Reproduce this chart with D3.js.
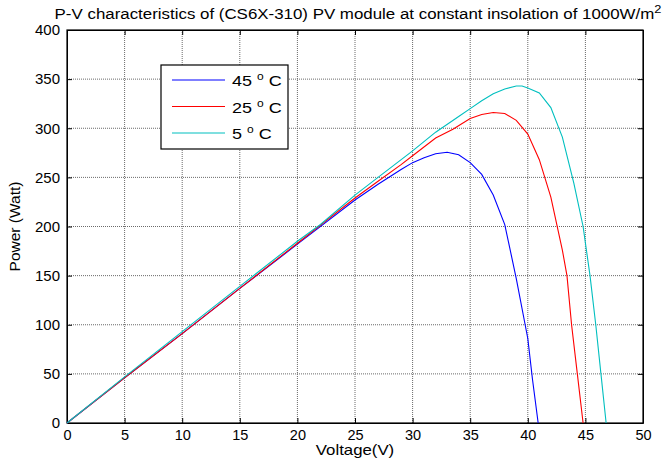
<!DOCTYPE html>
<html>
<head>
<meta charset="utf-8">
<script src="https://cdn.jsdelivr.net/npm/d3@7"></script>
<style>
  body { margin: 0; background: #fff; }
  text { font-family: "Liberation Sans", Arial, sans-serif; fill: #000; }
</style>
</head>
<body>
<div id="app"></div>
<script>
// data
var v45 = [0, 5, 10, 15, 20, 25, 27, 29, 30, 31, 32, 33, 34, 35, 36, 37, 38, 39, 40, 40.4, 40.9];
var p45 = [0, 46, 91, 137, 182, 227, 243, 258, 265, 270, 274, 275.5, 273, 265, 253, 232, 202, 147, 86, 45, 0];

var v25 = [0, 5, 10, 15, 20, 25, 27, 29, 30, 32, 33.5, 35, 36, 37, 38, 39, 40, 41, 42, 43, 43.4, 43.8, 44.3, 44.8];
var p25 = [0, 46, 91, 137, 183, 229, 246, 263, 272, 290, 299, 310, 314, 316, 315, 308, 294, 268, 230, 176, 150, 100, 50, 0];

var v5 = [0, 5, 10, 15, 20, 22, 25, 27, 30, 32, 34, 35, 36, 37, 38, 39, 39.5, 40, 41, 42, 43, 44, 44.8, 45.4, 45.9, 46.35, 46.8];
var p5 = [0, 47, 93, 139, 185, 202, 232, 250, 277, 296, 312, 320, 328, 335, 340, 343, 343, 341, 336, 321, 291, 244, 200, 150, 100, 50, 0];

var seriesNames = ['45 ', '25 ', '5 '];
var seriesColors = ['#0000ff', '#ff0000', '#00bfbf'];
var xTicks = [0, 5, 10, 15, 20, 25, 30, 35, 40, 45, 50];
var yTicks = [0, 50, 100, 150, 200, 250, 300, 350, 400];

var width = 667, height = 466,
    mLeft = 67, mTop = 30, plotW = 576, plotH = 393,
    tickLen = 5;

var svg = d3.select('#app').append('svg')
            .attr('width', width)
            .attr('height', height);

var x = d3.scaleLinear().domain([0, 50]).range([mLeft, mLeft + plotW]);
var y = d3.scaleLinear().domain([0, 400]).range([mTop + plotH, mTop]);

// grid
svg.append('g').selectAll('line')
   .data(xTicks.slice(1, -1)).join('line')
   .attr('x1', d => x(d)).attr('x2', d => x(d))
   .attr('y1', mTop).attr('y2', mTop + plotH)
   .attr('stroke', '#6a6a6a').attr('stroke-dasharray', '1,1');
svg.append('g').selectAll('line')
   .data(yTicks.slice(1, -1)).join('line')
   .attr('y1', d => y(d)).attr('y2', d => y(d))
   .attr('x1', mLeft).attr('x2', mLeft + plotW)
   .attr('stroke', '#6a6a6a').attr('stroke-dasharray', '1,1');

// axes with inward ticks
var fs = '14.5px';
svg.append('g')
   .attr('transform', 'translate(0,' + (mTop + plotH) + ')')
   .call(d3.axisBottom(x).tickValues(xTicks).tickSizeInner(-tickLen).tickSizeOuter(0).tickPadding(7))
   .call(g => g.selectAll('text').style('font-size', fs).attr('font-family', null));
svg.append('g')
   .attr('transform', 'translate(0,' + mTop + ')')
   .call(d3.axisTop(x).tickValues(xTicks).tickSizeInner(-tickLen).tickSizeOuter(0).tickFormat(''));
svg.append('g')
   .attr('transform', 'translate(' + mLeft + ',0)')
   .call(d3.axisLeft(y).tickValues(yTicks).tickSizeInner(-tickLen).tickSizeOuter(0).tickPadding(7))
   .call(g => g.selectAll('text').style('font-size', '15px').attr('font-family', null));
svg.append('g')
   .attr('transform', 'translate(' + (mLeft + plotW) + ',0)')
   .call(d3.axisRight(y).tickValues(yTicks).tickSizeInner(-tickLen).tickSizeOuter(0).tickFormat(''));
svg.selectAll('.domain').attr('stroke', '#000');
svg.selectAll('.tick line').attr('stroke', '#000');

svg.append('rect')
   .attr('x', mLeft).attr('y', mTop)
   .attr('width', plotW).attr('height', plotH)
   .attr('fill', 'none').attr('stroke', '#000').attr('stroke-width', 1.2);

// curves
var line = d3.line().x(d => x(d[0])).y(d => y(d[1]));
var curves = [d3.zip(v45, p45), d3.zip(v25, p25), d3.zip(v5, p5)];
curves.forEach(function (c, i) {
  svg.append('path')
     .datum(c)
     .attr('d', line)
     .attr('fill', 'none')
     .attr('stroke', seriesColors[i])
     .attr('stroke-width', 1.1);
});

// title (text in the reference is a little stretched horizontally)
var title = svg.append('text')
   .attr('transform', 'translate(358,19) scale(1.165,1)')
   .attr('text-anchor', 'middle')
   .style('font-size', '14.5px');
title.append('tspan').text('P-V characteristics of (CS6X-310) PV module at constant insolation of 1000W/m');
title.append('tspan').attr('dy', -6).style('font-size', '11px').text('2');

// axis labels
svg.append('text')
   .attr('transform', 'translate(' + x(25) + ',455) scale(1.2,1)')
   .attr('text-anchor', 'middle')
   .style('font-size', '14px')
   .text('Voltage(V)');
svg.append('text')
   .attr('transform', 'translate(20,' + y(200) + ') rotate(-90)')
   .attr('text-anchor', 'middle')
   .style('font-size', '15.5px')
   .text('Power (Watt)');

// legend
var lg = svg.append('g');
lg.append('rect')
  .attr('x', 161).attr('y', 65)
  .attr('width', 127).attr('height', 84)
  .attr('fill', '#fff').attr('stroke', '#000').attr('stroke-width', 1.2);
seriesNames.forEach(function (n, i) {
  var ly = 80 + i * 26.5;
  lg.append('line')
    .attr('x1', 172).attr('x2', 225)
    .attr('y1', ly).attr('y2', ly)
    .attr('stroke', seriesColors[i]).attr('stroke-width', 1.1);
  var t = lg.append('text')
    .attr('transform', 'translate(232,' + (ly + 6) + ') scale(1.2,1)')
    .style('font-size', '15px');
  t.append('tspan').text(n);
  t.append('tspan').attr('dy', -6).style('font-size', '10px').text('o');
  t.append('tspan').attr('dy', 6).text(' C');
});
</script>
</body>
</html>
